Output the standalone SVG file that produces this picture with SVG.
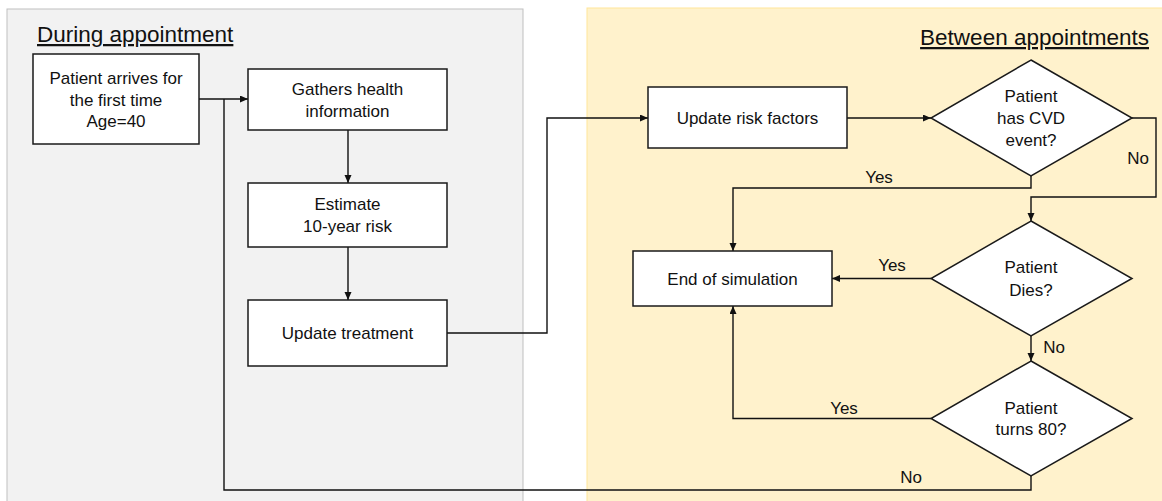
<svg xmlns="http://www.w3.org/2000/svg" width="1162" height="501" viewBox="0 0 1162 501">
<style>
.t{font-family:"Liberation Sans",Arial,sans-serif;font-size:17px;fill:#111;text-anchor:middle}
.title{font-family:"Liberation Sans",Arial,sans-serif;font-size:22.5px;fill:#111;text-decoration:underline}
.box{fill:#fff;stroke:#1a1a1a;stroke-width:1.5}
.c{fill:none;stroke:#111;stroke-width:1.4}
.ca{fill:none;stroke:#111;stroke-width:1.4;marker-end:url(#ah)}
</style>
<defs>
<marker id="ah" markerUnits="userSpaceOnUse" markerWidth="9" markerHeight="8" refX="8" refY="3.5" orient="auto">
<path d="M0,0 L8,3.5 L0,7 z" fill="#111"/>
</marker>
</defs>
<g id="panels">
<rect x="7" y="9" width="516" height="500" fill="#f2f2f2" stroke="#bfbfbf" stroke-width="1"/>
<rect x="587" y="8" width="580" height="500" fill="#fff2cc" stroke="#ffe699" stroke-width="1"/>
<text class="title" x="37" y="42">During appointment</text>
<text class="title" x="1149" y="45" text-anchor="end">Between appointments</text>
</g>
<g id="connectors">
<path class="ca" d="M199,99 H248"/>
<path class="c" d="M1031,476 V490 H224 V99"/>
<path class="ca" d="M348,130 V183"/>
<path class="ca" d="M348,247 V300"/>
<path class="ca" d="M447,333 H547 V118 H648"/>
<path class="ca" d="M847,118 H931"/>
<path class="ca" d="M1031,176 V188 H733 V251"/>
<path class="ca" d="M1132,118 H1156 V197 H1031 V221"/>
<path class="ca" d="M931,278.5 H832"/>
<path class="ca" d="M1031,336 V361"/>
<path class="ca" d="M931,418.5 H733 V306"/>
<text class="t" x="879" y="183">Yes</text>
<text class="t" x="1138" y="164">No</text>
<text class="t" x="892" y="271">Yes</text>
<text class="t" x="1054" y="353">No</text>
<text class="t" x="844" y="414">Yes</text>
<text class="t" x="911" y="483">No</text>
</g>
<g id="n-arrives">
<rect class="box" x="33" y="54" width="166" height="90"/>
<text class="t" x="116" y="84">Patient arrives for</text>
<text class="t" x="116" y="105.5">the first time</text>
<text class="t" x="116" y="127">Age=40</text>
</g>
<g id="n-gathers">
<rect class="box" x="248" y="69" width="199" height="61"/>
<text class="t" x="347.5" y="95">Gathers health</text>
<text class="t" x="347.5" y="116.5">information</text>
</g>
<g id="n-estimate">
<rect class="box" x="248" y="183" width="199" height="64"/>
<text class="t" x="347.5" y="210">Estimate</text>
<text class="t" x="347.5" y="231.5">10-year risk</text>
</g>
<g id="n-treatment">
<rect class="box" x="248" y="300" width="199" height="66"/>
<text class="t" x="347.5" y="339">Update treatment</text>
</g>
<g id="n-riskfactors">
<rect class="box" x="648" y="87" width="199" height="61"/>
<text class="t" x="747.5" y="124">Update risk factors</text>
</g>
<g id="n-cvd">
<polygon class="box" points="1031,60 1132,118 1031,176 931,118"/>
<text class="t" x="1031" y="102">Patient</text>
<text class="t" x="1031" y="124">has CVD</text>
<text class="t" x="1031" y="146">event?</text>
</g>
<g id="n-end">
<rect class="box" x="633" y="251" width="199" height="55"/>
<text class="t" x="732.5" y="284.5">End of simulation</text>
</g>
<g id="n-dies">
<polygon class="box" points="1031,221 1132,278.5 1031,336 931,278.5"/>
<text class="t" x="1031" y="273">Patient</text>
<text class="t" x="1031" y="295.5">Dies?</text>
</g>
<g id="n-turns80">
<polygon class="box" points="1031,361 1132,418.5 1031,476 931,418.5"/>
<text class="t" x="1031" y="414">Patient</text>
<text class="t" x="1031" y="435">turns 80?</text>
</g>
</svg>
